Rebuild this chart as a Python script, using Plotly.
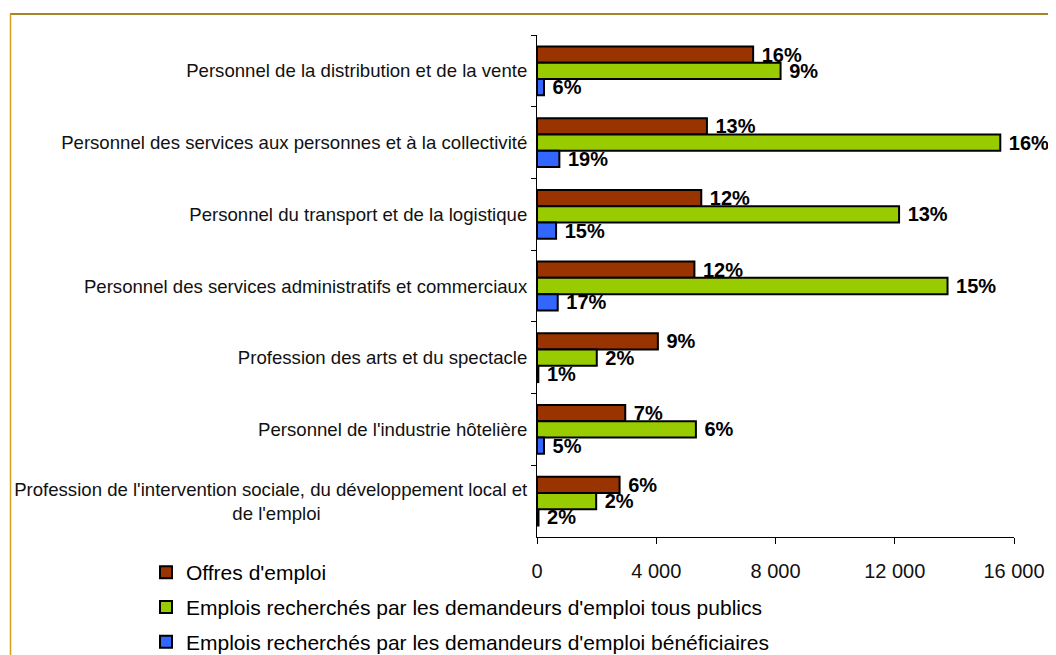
import plotly.graph_objects as go

NB = "\u00a0"

categories = [
    "Personnel de la distribution et de la vente",
    "Personnel des services aux personnes et à la collectivité",
    "Personnel du transport et de la logistique",
    "Personnel des services administratifs et commerciaux",
    "Profession des arts et du spectacle",
    "Personnel de l'industrie hôtelière",
    "Profession de l'intervention sociale, du développement local et<br>de l'emploi" + NB * 40,
]

series_names = [
    "Offres d'emploi",
    "Emplois recherchés par les demandeurs d'emploi tous publics",
    "Emplois recherchés par les demandeurs d'emploi bénéficiaires",
]

offres = [7250, 5700, 5510, 5280, 4055, 2960, 2770]
tous_publics = [8170, 15540, 12145, 13770, 2005, 5330, 1985]
beneficiaires = [235, 750, 640, 695, 45, 235, 50]

offres_pct = ["16%", "13%", "12%", "12%", "9%", "7%", "6%"]
tous_publics_pct = ["9%", "16%", "13%", "15%", "2%", "6%", "2%"]
beneficiaires_pct = ["6%", "19%", "15%", "17%", "1%", "5%", "2%"]

x_tickvals = [0, 4000, 8000, 12000, 16000]
x_ticktext = ["0", "4 000", "8 000", "12 000", "16 000"]

colors = ["#993300", "#99CC00", "#3366FF"]

FONT = "Liberation Sans, Arial, sans-serif"

fig = go.Figure()
for i, (name, vals, pct) in enumerate(zip(
        series_names,
        [offres, tous_publics, beneficiaires],
        [offres_pct, tous_publics_pct, beneficiaires_pct])):
    fig.add_trace(go.Bar(
        name=name,
        y=categories,
        x=vals,
        orientation="h",
        marker=dict(color=colors[i], line=dict(color="#000000", width=2)),
        text=[NB + t for t in pct],
        textposition="outside",
        constraintext="none",
        cliponaxis=False,
        textfont=dict(family=FONT, size=20, color="#000000", weight="bold"),
        legendgroup=f"g{i}",
    ))

# page body has an 8px margin: work in figure coordinates = screen - 8
OFF = 8
W, H = 1056 - OFF, 655 - OFF
ml, mt = 537 - OFF, 35 - OFF
plot_right, plot_bottom = 1014 - OFF, 537 - OFF
mr, mb = W - plot_right, H - plot_bottom
pw = W - ml - mr
ph = H - mt - mb

def px_x(x):
    return (x - OFF - ml) / pw

def px_y(y):
    return (plot_bottom - (y - OFF)) / ph

fig.update_layout(
    width=W, height=H,
    margin=dict(l=ml, r=mr, t=mt, b=mb, pad=0, autoexpand=False),
    paper_bgcolor="white",
    plot_bgcolor="white",
    barmode="group",
    bargap=0.32,
    bargroupgap=0,
    font=dict(family=FONT, size=18, color="#000000"),
    showlegend=True,
    legend=dict(
        x=px_x(146), y=px_y(552), xanchor="left", yanchor="top",
        font=dict(family=FONT, size=21, color="#000000"),
        traceorder="grouped",
        tracegroupgap=4.5,
        itemwidth=30,
        bgcolor="rgba(0,0,0,0)",
    ),
    xaxis=dict(
        range=[0, 16000],
        tickvals=x_tickvals,
        ticktext=x_ticktext,
        showgrid=False,
        zeroline=False,
        showline=True,
        linecolor="#000000",
        linewidth=1,
        ticks="outside",
        ticklen=6,
        tickcolor="#000000",
        ticklabelstandoff=10,
        tickfont=dict(family=FONT, size=20, color="#111111"),
        automargin=False,
    ),
    yaxis=dict(
        autorange="reversed",
        showgrid=False,
        zeroline=False,
        showline=True,
        linecolor="#000000",
        linewidth=1,
        ticks="outside",
        ticklen=5,
        tickcolor="#000000",
        tickson="boundaries",
        ticklabelstandoff=5,
        tickfont=dict(family=FONT, size=18.6, color="#111111"),
        automargin=False,
    ),
    shapes=[
        dict(type="line", xref="paper", yref="paper",
             x0=px_x(10), x1=px_x(1070), y0=px_y(14), y1=px_y(14),
             line=dict(color="#A8842A", width=2)),
        dict(type="line", xref="paper", yref="paper",
             x0=px_x(10.5), x1=px_x(10.5), y0=px_y(14), y1=px_y(670),
             line=dict(color="#D4A017", width=1.5)),
    ],
)

fig.write_html("out.html")
